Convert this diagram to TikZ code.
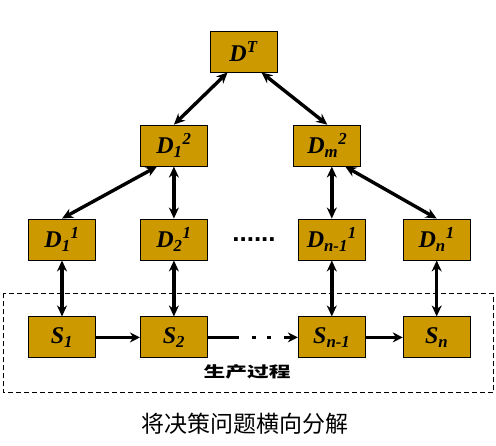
\documentclass[tikz,border=0pt]{standalone}
\usepackage{fontspec}
\setmainfont{Liberation Serif}
\newfontfamily\dotfont{Liberation Sans}
\newfontfamily\cjk{Noto Sans CJK SC}
\usetikzlibrary{arrows.meta,positioning}
\definecolor{dgold}{RGB}{204,153,0}
\tikzset{
  dbox/.style={
    rectangle, fill=dgold, draw=black, line width=0.9pt,
    minimum width=67pt, minimum height=41pt, inner sep=0pt,
    font=\fontsize{24}{24}\selectfont\bfseries\itshape
  },
  dualarr/.style={
    {Stealth[length=11pt,width=10pt]}-{Stealth[length=11pt,width=10pt]},
    line width=3.4pt
  },
  flowarr/.style={-{Stealth[length=10pt,width=10pt]}, line width=3.4pt},
  frame/.style={draw=black, line width=0.8pt, dash pattern=on 5pt off 3pt}
}

\begin{document}
\begin{tikzpicture}[x=1pt, y=1pt]
  \useasboundingbox (0,0) rectangle (496,-446);

  %% ---- level 1 decisions ---------------------------------------
  \node[dbox] at (62,-239.5) (d11) {D\textsubscript{1}\textsuperscript{1}};
  \node[dbox, right=44pt of d11] (d21) {D\textsubscript{2}\textsuperscript{1}};
  \node[dbox, right=90pt of d21] (dn1) {D\textsubscript{n-1}\textsuperscript{1}};
  \node[dbox, right=37pt of dn1] (dn)  {D\textsubscript{n}\textsuperscript{1}};

  \node[font=\fontsize{26}{26}\selectfont\dotfont\bfseries, anchor=base,
        inner sep=0pt] at (254,-242) (dots) {......};

  %% ---- level 2 and top -----------------------------------------
  \node[dbox, above=52pt of d21] (d12) {D\textsubscript{1}\textsuperscript{2}};
  \node[dbox, above=52pt of dn1, xshift=-4.5pt] (dm2) {D\textsubscript{m}\textsuperscript{2}};
  \node[dbox] at (243.5,-51.5) (dT) {D\textsuperscript{T}};

  %% ---- production stages ---------------------------------------
  \node[dbox, below=56pt of d11] (s1)  {S\textsubscript{1}};
  \node[dbox, below=56pt of d21] (s2)  {S\textsubscript{2}};
  \node[dbox, below=56pt of dn1] (sn1) {S\textsubscript{n-1}};
  \node[dbox, below=56pt of dn]  (sn)  {S\textsubscript{n}};

  %% ---- links ---------------------------------------------------
  \draw[dualarr] ([xshift=18pt]dT.south west) -- (d12.north);
  \draw[dualarr] ([xshift=-16pt]dT.south east) -- (dm2.north);
  \draw[dualarr] ([xshift=17pt]d12.south west) -- (d11.north);
  \draw[dualarr] (d12.south) -- (d21.north);
  \draw[dualarr] (dn1.north |- dm2.south) -- (dn1.north);
  \draw[dualarr] ([xshift=-16pt]dm2.south east) -- (dn.north);

  \draw[dualarr] (d11) -- (s1);
  \draw[dualarr] (d21) -- (s2);
  \draw[dualarr] (dn1) -- (sn1);
  \draw[dualarr] (dn)  -- (sn);

  \draw[flowarr] (s1) -- (s2);
  \draw[flowarr, dash pattern=on 31pt off 13pt on 4pt off 11pt on 4pt off 13pt on 20pt]
    (s2) -- (sn1);
  \draw[flowarr] (sn1) -- (sn);

  %% ---- production frame and captions ---------------------------
  \draw[frame] ([shift={(-25pt,23pt)}]s1.north west)
    rectangle ([shift={(23pt,-34pt)}]sn.south east);
  \node[font=\fontsize{15}{15}\selectfont\cjk\bfseries] at (247,-372) (proc)
    {\scalebox{1.45}[1]{生产过程}};
  \node[font=\fontsize{23}{23}\selectfont\cjk] at (245,-424) (cap)
    {将决策问题横向分解};
\end{tikzpicture}
\end{document}
